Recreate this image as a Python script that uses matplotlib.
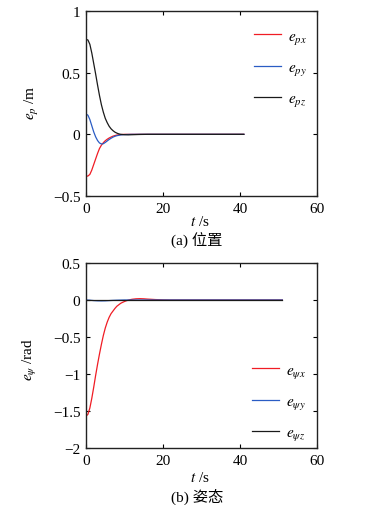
import matplotlib
matplotlib.use("Agg")
import matplotlib.pyplot as plt

# ---------------- data ----------------
# (a) position errors
t_px = [0, 0.5, 1, 1.5, 2, 2.5, 3, 3.5, 4, 4.5, 5, 5.5, 6, 6.5, 7, 7.5, 8, 9, 10, 41]
e_px = [-0.34, -0.338, -0.325, -0.29, -0.245, -0.2, -0.155, -0.115, -0.088, -0.068,
        -0.052, -0.04, -0.03, -0.022, -0.015, -0.01, -0.006, -0.002, 0.0, 0.0]

t_py = [0, 0.5, 1, 1.5, 2, 2.5, 3, 3.5, 4, 4.5, 5, 5.5, 6, 6.5, 7, 7.5, 8, 9, 10, 12, 41]
e_py = [0.165, 0.155, 0.12, 0.07, 0.02, -0.02, -0.05, -0.07, -0.078, -0.076, -0.066,
        -0.054, -0.042, -0.032, -0.023, -0.016, -0.011, -0.005, -0.002, 0.0, 0.0]

t_pz = [0, 0.5, 1, 1.5, 2, 2.5, 3, 3.5, 4, 4.5, 5, 5.5, 6, 6.5, 7, 7.5, 8, 8.5, 9,
        10, 11, 12, 14, 16, 41]
e_pz = [0.77, 0.765, 0.73, 0.66, 0.575, 0.49, 0.40, 0.315, 0.24, 0.18, 0.13, 0.095,
        0.066, 0.045, 0.03, 0.018, 0.01, 0.004, 0.0, -0.003, -0.004, -0.003, -0.001,
        0.0, 0.0]

# (b) attitude errors
t_qx = [0, 0.5, 1, 1.5, 2, 2.5, 3, 3.5, 4, 4.5, 5, 5.5, 6, 6.5, 7, 7.5, 8, 8.5, 9,
        9.5, 10, 10.5, 11, 11.5, 12, 13, 14, 15, 16, 18, 20, 22, 51]
e_qx = [-1.57, -1.545, -1.46, -1.33, -1.18, -1.02, -0.87, -0.73, -0.60, -0.48, -0.38,
        -0.30, -0.235, -0.185, -0.15, -0.115, -0.085, -0.065, -0.045, -0.032, -0.02,
        -0.01, -0.002, 0.005, 0.01, 0.016, 0.018, 0.016, 0.012, 0.006, 0.002, 0.0, 0.0]

t_qy = [0, 1, 2, 3, 4, 5, 6, 7, 8, 10, 51]
e_qy = [0.0, -0.003, -0.008, -0.011, -0.012, -0.011, -0.008, -0.005, -0.003, 0.0, 0.0]

t_qz = [0, 51]
e_qz = [0.0, 0.0]

xticks = [0, 20, 40, 60]
yticks_a = [-0.5, 0, 0.5, 1]
yticks_b = [-2, -1.5, -1, -0.5, 0, 0.5]

# ---------------- style ----------------
W, H = 373, 506
plt.rcParams['font.family'] = ['Liberation Serif', 'Noto Sans CJK SC']
plt.rcParams['mathtext.fontset'] = 'stix'
plt.rcParams['axes.unicode_minus'] = True

RED = '#f01c24'
BLUE = '#2a5cc4'
BLACK = '#1a1a1a'
FS = 11

fig = plt.figure(figsize=(W / 100, H / 100), dpi=100)
fig.patch.set_facecolor('white')


def px_axes(x0, y0, x1, y1):
    return fig.add_axes([x0 / W, 1 - y1 / H, (x1 - x0) / W, (y1 - y0) / H])


def style(ax, yticks, ylim):
    ax.set_xlim(0, 60)
    ax.set_ylim(*ylim)
    ax.set_xticks(xticks)
    ax.set_yticks(yticks)
    ax.set_yticklabels([('%g' % v).replace('-', '\u2212') for v in yticks])
    ax.tick_params(direction='in', length=3, width=0.8, labelsize=FS,
                   top=True, right=True, pad=4, colors='black')
    for s in ax.spines.values():
        s.set_linewidth(1.0)
        s.set_color('#222222')


LEG = dict(loc='upper left', frameon=False, fontsize=FS, handlelength=1.75,
           handletextpad=0.5, labelspacing=0.95, borderaxespad=0, borderpad=0)

# ---- (a) ----
ax1 = px_axes(86, 12, 317, 197)
l1, = ax1.plot(t_px, e_px, color=RED, lw=0.9)
l2, = ax1.plot(t_py, e_py, color=BLUE, lw=0.9)
l3, = ax1.plot(t_pz, e_pz, color=BLACK, lw=0.9)
style(ax1, yticks_a, (-0.5, 1))
ax1.legend([l1, l2, l3], [r'$e_{px}$', r'$e_{py}$', r'$e_{pz}$'],
           bbox_to_anchor=((254 - 86) / 231, 1 - (30 - 12) / 185), **LEG)

fig.text(32 / W, 1 - 103 / H, r'$e_p$ /m', rotation=90, ha='center', va='center', fontsize=FS)
fig.text(200 / W, 1 - 222 / H, r'$t$ /s', ha='center', va='center', fontsize=FS)
fig.text(197 / W, 1 - 241 / H, '(a) 位置', ha='center', va='center', fontsize=FS)

# ---- (b) ----
ax2 = px_axes(86, 264, 317, 449)
m1, = ax2.plot(t_qx, e_qx, color=RED, lw=0.9)
m2, = ax2.plot(t_qy, e_qy, color=BLUE, lw=0.9)
m3, = ax2.plot(t_qz, e_qz, color=BLACK, lw=0.9)
style(ax2, yticks_b, (-2, 0.5))
ax2.legend([m1, m2, m3], [r'$e_{\psi x}$', r'$e_{\psi y}$', r'$e_{\psi z}$'],
           bbox_to_anchor=((252 - 86) / 231, 1 - (364 - 264) / 185), **LEG)

fig.text(30 / W, 1 - 360 / H, r'$e_\psi$ /rad', rotation=90, ha='center', va='center', fontsize=FS)
fig.text(200 / W, 1 - 478 / H, r'$t$ /s', ha='center', va='center', fontsize=FS)
fig.text(197 / W, 1 - 497 / H, '(b) 姿态', ha='center', va='center', fontsize=FS)

fig.savefig('out.png', dpi=100, facecolor='white')
